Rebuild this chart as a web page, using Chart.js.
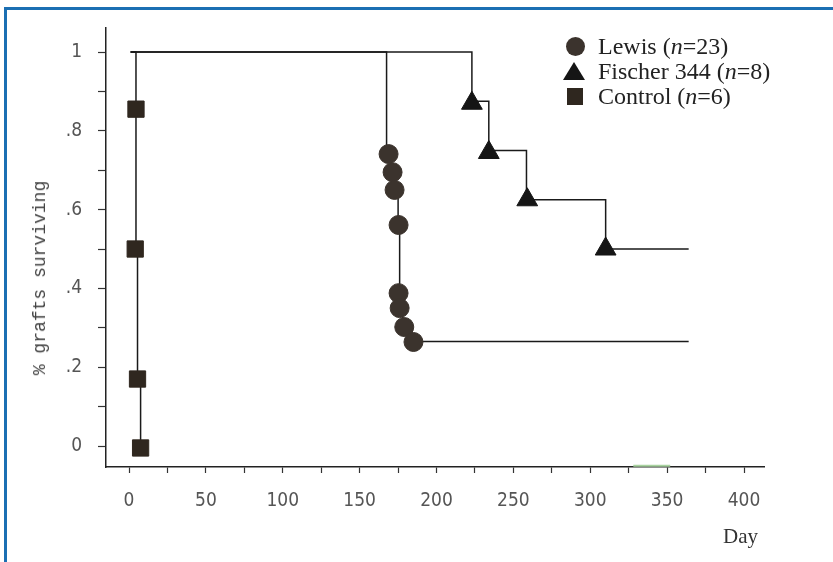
<!DOCTYPE html>
<html>
<head>
<meta charset="utf-8">
<script src="https://cdn.jsdelivr.net/npm/chart.js@4.4.1/dist/chart.umd.min.js"></script>
<style>
  body { margin: 0; background: #fff; }
  #wrap { position: relative; width: 833px; height: 562px; overflow: hidden; }
  #frame { position: absolute; left: 4px; top: 7px; right: -10px; bottom: -10px;
           border-left: 3px solid #1b6fb3; border-top: 3px solid #1b6fb3; }
  #chart { position: absolute; left: 0; top: 0; }
  .ytitle { position: absolute; left: 40px; top: 278px; transform: translate(-50%, -50%) rotate(-90deg);
            font-family: 'Liberation Mono', monospace; font-size: 18px; color: #444; white-space: nowrap; }
  .xtitle { position: absolute; right: 75px; top: 524px; font-family: 'Liberation Serif', serif;
            font-size: 21px; color: #333; }
  .legend { position: absolute; left: 562px; top: 34px; font-family: 'Liberation Serif', serif;
            font-size: 24px; color: #222; }
  .legend div { position: relative; height: 25px; line-height: 25px; padding-left: 36px; white-space: nowrap; }
  .mk { position: absolute; }
  .mk.circle { left: 4px; top: 3px; width: 19px; height: 19px; border-radius: 50%; background: #3b332d; }
  .mk.tri { left: 1px; top: 3px; width: 0; height: 0; border-left: 11px solid transparent;
            border-right: 11px solid transparent; border-bottom: 18px solid #151515; }
  .mk.square { left: 5px; top: 4px; width: 16px; height: 17px; background: #2f271f; }
</style>
</head>
<body>
<div id="wrap">
  <div id="frame"></div>
  <canvas id="chart" width="833" height="562"></canvas>
  <div class="ytitle">% grafts surviving</div>
  <div class="xtitle">Day</div>
  <div class="legend">
    <div><span class="mk circle"></span>Lewis (<i>n</i>=23)</div>
    <div><span class="mk tri"></span>Fischer 344 (<i>n</i>=8)</div>
    <div><span class="mk square"></span>Control (<i>n</i>=6)</div>
  </div>
</div>
<script>
// Courbes de survie (jours / proportion)
const lewisLineDays = [1, 167.5, 170, 172, 175, 176, 178, 184, 364];
const lewisLineSurv = [1, 0.74, 0.70, 0.65, 0.56, 0.35, 0.30, 0.265, 0.265];
const fischerLineDays = [1, 223, 234, 258.5, 310, 364];
const fischerLineSurv = [1, 0.875, 0.75, 0.625, 0.5, 0.5];
const controlLineDays = [1, 4.5, 4.5, 5.5, 7.5];
const controlLineSurv = [1, 0.855, 0.5, 0.17, 0];

// Marqueurs
const lewisDays = [168.8, 171.4, 172.7, 175.3, 175.3, 176, 179, 185];
const lewisSurv = [0.741, 0.695, 0.650, 0.561, 0.388, 0.350, 0.302, 0.264];
const fischerDays = [223, 234, 259, 310];
const fischerSurv = [0.87, 0.745, 0.625, 0.50];
const controlDays = [4.5, 4, 5.5, 7.5];
const controlSurv = [0.855, 0.50, 0.17, -0.005];

// petite trace verte sur l'axe
const greenDays = [328, 352];
const greenVals = [-0.05, -0.05];

const toPoints = (xs, ys) => xs.map((x, i) => ({ x: x, y: ys[i] }));

function markerSet(label, xs, ys, style, radius, color) {
  return {
    label: label,
    data: toPoints(xs, ys),
    showLine: false,
    pointStyle: style,
    pointRadius: radius,
    pointHoverRadius: radius,
    backgroundColor: color,
    borderColor: color,
    borderWidth: 1
  };
}

function lineSet(label, xs, ys, color, width) {
  return {
    label: label,
    data: toPoints(xs, ys),
    showLine: true,
    stepped: true,
    pointRadius: 0,
    borderColor: color || '#1a1a1a',
    borderWidth: width || 1.5,
    fill: false
  };
}

const tickFont = { family: "'Liberation Sans Narrow', 'DejaVu Sans Condensed', 'Liberation Sans', sans-serif", size: 19 };

const ctx = document.getElementById('chart').getContext('2d');
new Chart(ctx, {
  type: 'scatter',
  data: {
    datasets: [
      markerSet('Lewis', lewisDays, lewisSurv, 'circle', 9.5, '#3b332d'),
      markerSet('Fischer 344', fischerDays, fischerSurv, 'triangle', 12, '#151515'),
      markerSet('Control', controlDays, controlSurv, 'rect', 11.5, '#2f271f'),
      lineSet('Lewis line', lewisLineDays, lewisLineSurv),
      lineSet('Fischer line', fischerLineDays, fischerLineSurv),
      lineSet('Control line', controlLineDays, controlLineSurv),
      lineSet('green', greenDays, greenVals, '#a9d3a0', 2)
    ]
  },
  options: {
    responsive: false,
    animation: false,
    layout: { padding: { left: 0, top: 28, right: 69, bottom: 0 } },
    plugins: {
      legend: { display: false },
      tooltip: { enabled: false }
    },
    scales: {
      x: {
        type: 'linear',
        min: -15,
        max: 413,
        afterFit: (scale) => { scale.height = 95; },
        border: { display: true, color: '#222', width: 1.5 },
        grid: { drawOnChartArea: false, drawTicks: true, tickLength: 6, tickColor: '#333', tickWidth: 1.2 },
        ticks: {
          stepSize: 25,
          includeBounds: false,
          autoSkip: false,
          maxRotation: 0,
          padding: 17,
          color: '#555',
          font: tickFont,
          callback: (v) => (v % 50 === 0 ? String(v) : '')
        }
      },
      y: {
        type: 'linear',
        min: -0.0533,
        max: 1.061,
        afterFit: (scale) => { scale.width = 106; },
        border: { display: true, color: '#222', width: 1.5 },
        grid: { drawOnChartArea: false, drawTicks: true, tickLength: 8, tickColor: '#333', tickWidth: 1.2 },
        ticks: {
          stepSize: 0.1,
          includeBounds: false,
          autoSkip: false,
          padding: 16,
          color: '#555',
          font: tickFont,
          callback: (v) => {
            const k = Math.round(v * 10);
            if (k % 2 !== 0) return '';
            if (k === 10) return '1';
            if (k === 0) return '0';
            return '.' + k;
          }
        }
      }
    }
  }
});
</script>
</body>
</html>
